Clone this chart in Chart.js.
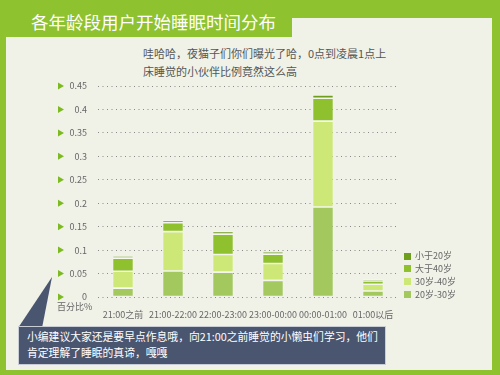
<!DOCTYPE html>
<html>
<head>
<meta charset="utf-8">
<script src="https://cdn.jsdelivr.net/npm/chart.js@4"></script>
<style>
  html, body { margin: 0; padding: 0; }
  body { width: 500px; height: 375px; background: #8ec22e; position: relative; overflow: hidden;
         font-family: 'Noto Sans CJK SC', 'Noto Sans', sans-serif; }
  .panel { position: absolute; background: #f0f2e8; }
  #title { position: absolute; left: 31px; top: 9px; color: #fff; font-size: 17.5px; line-height: 26px; white-space: nowrap; }
  #sub { position: absolute; left: 143px; top: 44px; color: #555; font-size: 11px; line-height: 18px; white-space: nowrap; }
  #unit { position: absolute; left: 57px; top: 300px; color: #666; font-size: 9px; line-height: 14px; }
  #legend { position: absolute; left: 404px; top: 249px; font-size: 9px; color: #666; }
  #legend div { height: 12.9px; line-height: 13px; white-space: nowrap; }
  #legend span { display: inline-block; width: 7px; height: 7px; margin-right: 4px; vertical-align: -0.5px; }
  #pointer { position: absolute; left: 0; top: 0; width: 500px; height: 375px; background: #4a5570;
             clip-path: polygon(52px 277px, 18px 328px, 42px 328px); }
  #note { position: absolute; left: 18px; top: 326px; width: 358px; height: 35px; background: #4a5570;
          border: 1px solid #c9ced6; color: #fff; font-size: 10.8px; line-height: 15.5px; padding: 2px 0 0 8px;
          white-space: nowrap; }
  canvas { position: absolute; left: 0; top: 0; }
</style>
</head>
<body>
<div class="panel" style="left:6px; top:37px; width:486px; height:333px;"></div>
<div class="panel" style="left:292px; top:18px; width:200px; height:30px;"></div>
<div id="title">各年龄段用户开始睡眠时间分布</div>
<div id="sub">哇哈哈，夜猫子们你们曝光了哈，0点到凌晨1点上<br>床睡觉的小伙伴比例竟然这么高</div>
<canvas id="c" width="500" height="375"></canvas>
<div id="unit">百分比%</div>
<div id="legend"></div>
<div id="pointer"></div>
<div id="note">小编建议大家还是要早点作息哦，向21:00之前睡觉的小懒虫们学习，他们<br>肯定理解了睡眠的真谛，嘎嘎</div>
<script>
// 数据
const categories = ['21:00之前', '21:00-22:00', '22:00-23:00', '23:00-00:00', '00:00-01:00', '01:00以后'];
const age20to30 = [0.019, 0.0555, 0.053, 0.0355, 0.192, 0.0128];
const age30to40 = [0.036, 0.084, 0.0376, 0.036, 0.183, 0.0143];
const over40    = [0.028, 0.019, 0.0434, 0.02, 0.049, 0.007];
const under20   = [0.0045, 0.005, 0.006, 0.005, 0.007, 0.0036];
const seriesNames = ['20岁-30岁', '30岁-40岁', '大于40岁', '小于20岁'];
const seriesColors = ['#a3c85e', '#cee877', '#8fc12f', '#6f9d1c'];
const yTickLabels = ['0', '0.05', '0.1', '0.15', '0.2', '0.25', '0.3', '0.35', '0.4', '0.45'];

const FONT = "'Noto Sans CJK SC', 'Noto Sans', sans-serif";

// y轴前面的小三角
const trianglePlugin = {
    id: 'triangles',
    afterDraw(chart) {
        const ctx = chart.ctx, y = chart.scales.y;
        ctx.save();
        ctx.fillStyle = '#7dba22';
        y.ticks.forEach(t => {
            const py = y.getPixelForValue(t.value);
            ctx.beginPath();
            ctx.moveTo(58, py - 3.5);
            ctx.lineTo(64, py);
            ctx.lineTo(58, py + 3.5);
            ctx.closePath();
            ctx.fill();
        });
        ctx.restore();
    }
};

const allSeries = [age20to30, age30to40, over40, under20];

new Chart(document.getElementById('c'), {
    type: 'bar',
    data: {
        labels: categories,
        datasets: allSeries.map((d, i) => ({
            label: seriesNames[i],
            data: d,
            backgroundColor: seriesColors[i],
            borderColor: 'rgba(255,255,255,0.45)',
            borderWidth: 0.8,
            borderSkipped: false,
            barPercentage: 0.42,
            categoryPercentage: 1
        }))
    },
    options: {
        responsive: false,
        animation: false,
        layout: { padding: { top: 86, right: 102, left: 0, bottom: 0 } },
        plugins: { legend: { display: false }, tooltip: { enabled: false } },
        scales: {
            x: {
                stacked: true,
                grid: { display: false },
                border: { display: false },
                ticks: { color: '#666', font: { family: FONT, size: 9 }, padding: 4, maxRotation: 0, autoSkip: false },
                afterFit: s => { s.height = 78; }
            },
            y: {
                stacked: true,
                min: 0, max: 0.45,
                ticks: {
                    stepSize: 0.05, color: '#666', font: { family: FONT, size: 9 }, padding: 11,
                    callback: (v, i) => yTickLabels[i]
                },
                grid: { color: '#8a8a8a', drawTicks: false, lineWidth: 1 },
                border: { display: false, dash: [1, 3.5] },
                afterFit: s => { s.width = 98; }
            }
        }
    },
    plugins: [trianglePlugin]
});

// 图例（倒序）
const legend = document.getElementById('legend');
for (let i = seriesNames.length - 1; i >= 0; i--) {
    const row = document.createElement('div');
    row.innerHTML = '<span style="background:' + seriesColors[i] + '"></span>' + seriesNames[i];
    legend.appendChild(row);
}
</script>
</body>
</html>
